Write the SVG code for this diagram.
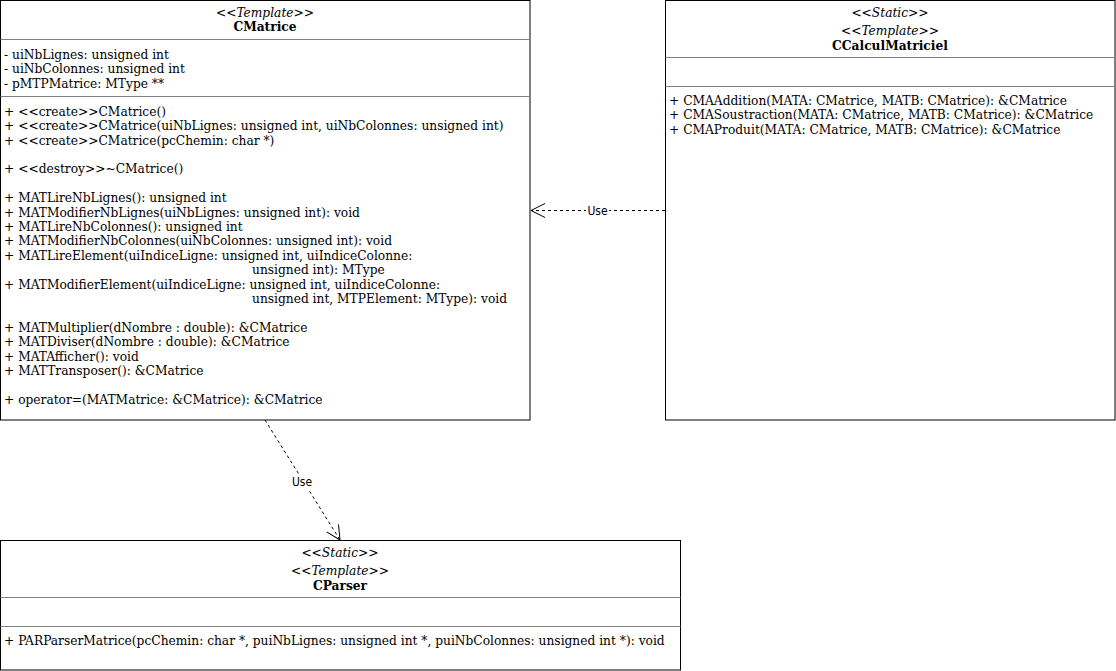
<svg xmlns="http://www.w3.org/2000/svg" width="1116" height="671" viewBox="0 0 1116 671">
<defs>
<style>
.box{fill:#fff;stroke:#000;stroke-width:1}
.sep{stroke:#808080;stroke-width:1;fill:none}
.t{font-family:"DejaVu Serif Condensed","DejaVu Serif",serif;font-stretch:condensed;font-size:13.6px;fill:#000}
.st{font-style:italic;text-anchor:middle}
.nm{font-weight:bold;text-anchor:middle}
.edge{stroke:#000;stroke-width:1;stroke-dasharray:3 3;fill:none}
.lbl{font-family:"DejaVu Sans Condensed","DejaVu Sans",sans-serif;font-stretch:condensed;font-size:12px;fill:#000;text-anchor:middle}
</style>
<marker id="open" markerWidth="16" markerHeight="16" refX="14" refY="7" orient="auto" markerUnits="userSpaceOnUse">
<path d="M0,0 L14,7 L0,14" fill="none" stroke="#000" stroke-width="1"/>
</marker>
</defs>
<rect width="1116" height="671" fill="#fff"/>
<g id="CMatrice">
<rect class="box" x="0.5" y="0.5" width="529.5" height="419.5"/>
<line class="sep" x1="0.5" y1="39.5" x2="530" y2="39.5"/>
<line class="sep" x1="0.5" y1="96.5" x2="530" y2="96.5"/>
<text class="t st" x="265" y="16.5">&lt;&lt;Template&gt;&gt;</text>
<text class="t nm" x="265" y="30.5">CMatrice</text>
<text class="t" x="4" y="59">- uiNbLignes: unsigned int</text>
<text class="t" x="4" y="73.3">- uiNbColonnes: unsigned int</text>
<text class="t" x="4" y="87.6">- pMTPMatrice: MType **</text>
<text class="t" x="4" y="115.7">+ &lt;&lt;create&gt;&gt;CMatrice()</text>
<text class="t" x="4" y="130.1">+ &lt;&lt;create&gt;&gt;CMatrice(uiNbLignes: unsigned int, uiNbColonnes: unsigned int)</text>
<text class="t" x="4" y="144.5">+ &lt;&lt;create&gt;&gt;CMatrice(pcChemin: char *)</text>
<text class="t" x="4" y="173.3">+ &lt;&lt;destroy&gt;&gt;~CMatrice()</text>
<text class="t" x="4" y="202.1">+ MATLireNbLignes(): unsigned int</text>
<text class="t" x="4" y="216.5">+ MATModifierNbLignes(uiNbLignes: unsigned int): void</text>
<text class="t" x="4" y="230.9">+ MATLireNbColonnes(): unsigned int</text>
<text class="t" x="4" y="245.3">+ MATModifierNbColonnes(uiNbColonnes: unsigned int): void</text>
<text class="t" x="4" y="259.7">+ MATLireElement(uiIndiceLigne: unsigned int, uiIndiceColonne:</text>
<text class="t" x="252" y="274.1">unsigned int): MType</text>
<text class="t" x="4" y="288.5">+ MATModifierElement(uiIndiceLigne: unsigned int, uiIndiceColonne:</text>
<text class="t" x="252" y="302.9">unsigned int, MTPElement: MType): void</text>
<text class="t" x="4" y="331.7">+ MATMultiplier(dNombre : double): &amp;CMatrice</text>
<text class="t" x="4" y="346.1">+ MATDiviser(dNombre : double): &amp;CMatrice</text>
<text class="t" x="4" y="360.5">+ MATAfficher(): void</text>
<text class="t" x="4" y="374.9">+ MATTransposer(): &amp;CMatrice</text>
<text class="t" x="4" y="403.7">+ operator=(MATMatrice: &amp;CMatrice): &amp;CMatrice</text>
</g>
<g id="CCalculMatriciel">
<rect class="box" x="665.5" y="0.5" width="449.5" height="419.5"/>
<line class="sep" x1="665.5" y1="57.5" x2="1115" y2="57.5"/>
<line class="sep" x1="665.5" y1="86.5" x2="1115" y2="86.5"/>
<text class="t st" x="890" y="16.5">&lt;&lt;Static&gt;&gt;</text>
<text class="t st" x="890" y="34.5">&lt;&lt;Template&gt;&gt;</text>
<text class="t nm" x="890" y="49.5">CCalculMatriciel</text>
<text class="t" x="669" y="105">+ CMAAddition(MATA: CMatrice, MATB: CMatrice): &amp;CMatrice</text>
<text class="t" x="669" y="119.4">+ CMASoustraction(MATA: CMatrice, MATB: CMatrice): &amp;CMatrice</text>
<text class="t" x="669" y="133.8">+ CMAProduit(MATA: CMatrice, MATB: CMatrice): &amp;CMatrice</text>
</g>
<g id="CParser">
<rect class="box" x="0.5" y="540.5" width="680" height="129.5"/>
<line class="sep" x1="0.5" y1="597.5" x2="680.5" y2="597.5"/>
<line class="sep" x1="0.5" y1="626.5" x2="680.5" y2="626.5"/>
<text class="t st" x="340" y="556.5">&lt;&lt;Static&gt;&gt;</text>
<text class="t st" x="340" y="574.5">&lt;&lt;Template&gt;&gt;</text>
<text class="t nm" x="340" y="589.5">CParser</text>
<text class="t" x="4" y="645">+ PARParserMatrice(pcChemin: char *, puiNbLignes: unsigned int *, puiNbColonnes: unsigned int *): void</text>
</g>
<g id="connectors">
<path class="edge" d="M665,210.5 L531,210.5" marker-end="url(#open)"/>
<rect x="586" y="203" width="23" height="14" fill="#fff"/>
<text class="lbl" x="597.5" y="214.5">Use</text>
<path class="edge" d="M265,420 L340,540" marker-end="url(#open)"/>
<rect x="290" y="475" width="24" height="14" fill="#fff"/>
<text class="lbl" x="302" y="486">Use</text>
</g>
</svg>
